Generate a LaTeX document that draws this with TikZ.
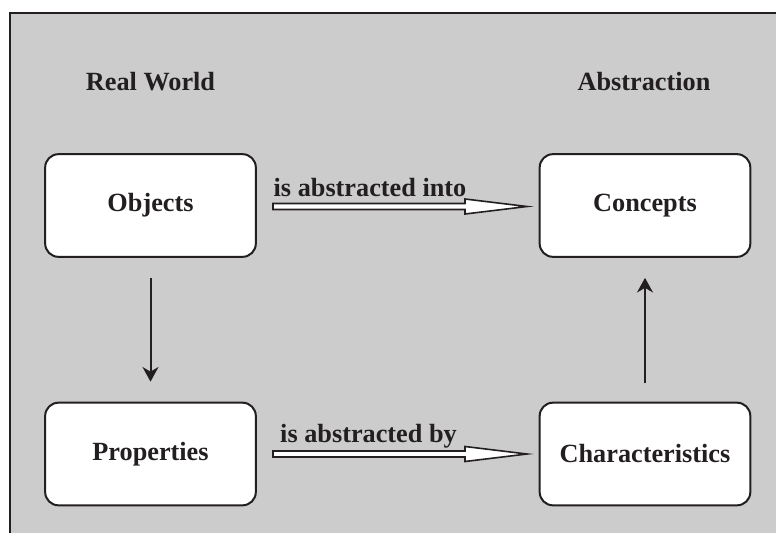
\documentclass[tikz,border=0pt]{standalone}
\usepackage{fontspec}
\setmainfont{Liberation Serif}
\usetikzlibrary{arrows.meta,calc}

\definecolor{panelgray}{HTML}{CCCCCC}
\definecolor{inkblack}{HTML}{231F20}

\tikzset{
    txt/.style={font=\bfseries\fontsize{19.7}{23}\selectfont, text=inkblack},
    box/.style={txt, draw=inkblack, line width=1.5pt, fill=white, rounded corners=10pt,
        minimum width=158pt, minimum height=77pt, inner sep=0pt},
    down/.style={draw=inkblack, line width=1.5pt, -{Stealth[length=11pt, width=12pt, inset=3.5pt]}},
    hollow/.style={draw=inkblack, line width=1.2pt, fill=white, line join=miter},
}

% draws a wide open arrow from #1 to #2
\newcommand{\hollowarrow}[2]{%
    \draw[hollow] ($(#1)+(0,-3)$) -- ($(#2)+(-62,-3)$) -- ($(#2)+(-62,-7.5)$) -- (#2)
        -- ($(#2)+(-62,7.5)$) -- ($(#2)+(-62,3)$) -- ($(#1)+(0,3)$) -- cycle;}

\begin{document}
\begin{tikzpicture}[x=0.75pt, y=-0.75pt]
    \useasboundingbox (0,0) rectangle (776,533);

    %Panel
    \fill[panelgray] (10,13) rectangle (776,533);
    \draw[inkblack, line width=1.5pt] (10,533) -- (10,13) -- (776,13); %Top left frame

    %Headings
    \node[txt, anchor=base] (real) at (150.5,90) {Real World};
    \node[txt, anchor=base] (abst) at (644,90) {Abstraction};

    %Boxes
    \node[box] (objects) at (150.5,205.5) {Objects};
    \node[box] (concepts) at (645,205.5) {Concepts};
    \node[box] (properties) at (150.5,454) {Properties};
    \node[box] (characteristics) at (645,454) {Characteristics};

    %Plain arrows
    \draw[down, shorten <=15pt, shorten >=15pt] (objects.south) -- (properties.north);
    \draw[down, shorten <=14pt, shorten >=15pt] (characteristics.north) -- (concepts.south);

    %Open arrows
    \coordinate (into1) at (273,206.5);
    \coordinate (into2) at (527,206.5);
    \hollowarrow{into1}{into2}
    \node[txt, anchor=base] (intolab) at (370,196) {is abstracted into};

    \coordinate (by1) at (273,454);
    \coordinate (by2) at (527,454);
    \hollowarrow{by1}{by2}
    \node[txt, anchor=base] (bylab) at (368.5,442) {is abstracted by};

\end{tikzpicture}
\end{document}
